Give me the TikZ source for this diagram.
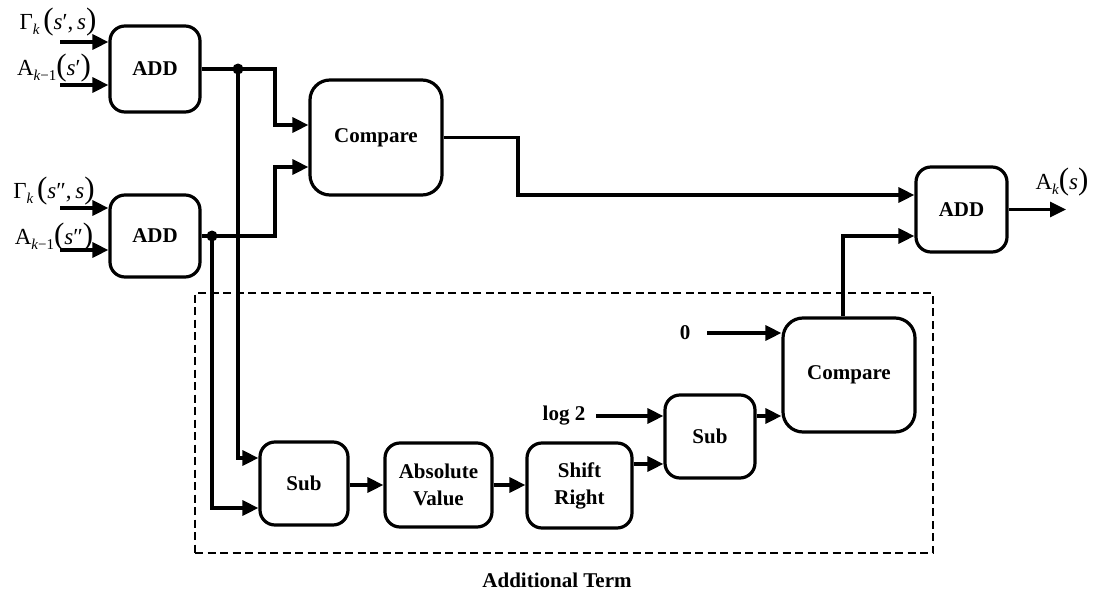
\documentclass[tikz,border=0pt]{standalone}
\usepackage{fontspec}
\setmainfont{Liberation Serif}
\usetikzlibrary{arrows.meta}
\tikzset{
  blk/.style={draw, line width=3.2pt, rounded corners=15pt, font=\fontsize{21}{27}\selectfont\bfseries, align=center, inner sep=0pt},
  arr/.style={line width=3.2pt, -{Triangle[length=16pt,width=15pt]}},
  lbl/.style={inner sep=0pt, font=\fontsize{23}{28}\selectfont},
  blbl/.style={inner sep=0pt, font=\fontsize{21}{26}\selectfont\bfseries},
  termbox/.style={draw, line width=2.6pt, dash pattern=on 8pt off 4.5pt, inner sep=0pt},
}
\newcommand{\bpar}[1]{{\fontsize{31}{31}\selectfont #1}}
\newcommand{\sbk}[1]{\raisebox{-0.5ex}{\fontsize{15}{15}\selectfont #1}}
\begin{document}
\begin{tikzpicture}[x=1pt,y=-1pt]
\useasboundingbox (0,0) rectangle (1098,597);
% dashed region
\node[termbox, minimum width=738pt, minimum height=260pt] (term) at (564,423) {};
\node[blbl] (termlbl) at (557,580) {Additional Term};
% blocks
\node[blk, minimum width=90pt, minimum height=86pt] (add1) at (155,69) {ADD};
\node[blk, minimum width=90pt, minimum height=82pt] (add2) at (155,236) {ADD};
\node[blk, minimum width=132pt, minimum height=115pt, rounded corners=20pt] (cmp1) at (376,137.5) {Compare};
\node[blk, minimum width=91pt, minimum height=85pt] (add3) at (961.5,209.5) {ADD};
\node[blk, minimum width=88pt, minimum height=83pt] (sub1) at (304,483.5) {Sub};
\node[blk, minimum width=107pt, minimum height=84pt] (abs) at (438.5,485) {Absolute\\Value};
\node[blk, minimum width=105pt, minimum height=85pt] (shr) at (579.5,485.5) {Shift\\Right};
\node[blk, minimum width=90pt, minimum height=83pt] (sub2) at (710,436.5) {Sub};
\node[blk, minimum width=132pt, minimum height=114pt, rounded corners=20pt] (cmp2) at (849,375) {Compare};
% input labels
\node[lbl] (g1) at (58,22) {Γ\sbk{\itshape k}\,\bpar{(}\textit{s}′,\,\textit{s}\bpar{)}};
\node[lbl] (a1) at (54,68) {A\sbk{\itshape k\upshape −1}\bpar{(}\textit{s}′\bpar{)}};
\node[lbl] (g2) at (54,191) {Γ\sbk{\itshape k}\,\bpar{(}\textit{s}″,\,\textit{s}\bpar{)}};
\node[lbl] (a2) at (54,237) {A\sbk{\itshape k\upshape −1}\bpar{(}\textit{s}″\bpar{)}};
\node[lbl] (ak) at (1062,182) {A\sbk{\itshape k}\bpar{(}\textit{s}\bpar{)}};
\node[blbl] (zero) at (685,333) {0};
\node[blbl] (log) at (564,416) {log 2};
% free ends
\coordinate (i1) at (60,42);
\coordinate (i2) at (60,85);
\coordinate (i3) at (60,208);
\coordinate (i4) at (60,250);
\coordinate (out) at (1066,209.5);
\coordinate (d1) at (238,69);
\coordinate (d2) at (212,236);
% inputs
\draw[arr] (i1) -- (i1 -| add1.west);
\draw[arr] (i2) -- (i2 -| add1.west);
\draw[arr] (i3) -- (i3 -| add2.west);
\draw[arr] (i4) -- (i4 -| add2.west);
% add outputs to compare
\draw[arr] (add1.east) -- (275,69) |- (cmp1.west |- 0,125);
\draw[arr] (add2.east) -- (275,236) |- (cmp1.west |- 0,167);
\fill (d1) circle (5.5pt);
\fill (d2) circle (5.5pt);
\draw[arr] (d1) |- (sub1.west |- 0,458);
\draw[arr] (d2) |- (sub1.west |- 0,508);
% compare1 to add3
\draw[arr] (cmp1.east) -- (518,137.5) |- (add3.west |- 0,195);
\draw[arr] (add3.east) -- (out);
% lower chain
\draw[arr] (sub1.east |- 0,485) -- (abs.west |- 0,485);
\draw[arr] (abs.east |- 0,485) -- (shr.west |- 0,485);
\draw[arr] (shr.east |- 0,464) -- (sub2.west |- 0,464);
\draw[arr] ([xshift=11pt]log.east) -- (sub2.west |- log.east);
\draw[arr] (sub2.east |- 0,416) -- (cmp2.west |- 0,416);
\draw[arr] ([xshift=17pt]zero.east) -- (cmp2.west |- zero.east);
\draw[arr] (cmp2.north -| 843,0) |- (add3.west |- 0,236);
\end{tikzpicture}
\end{document}
